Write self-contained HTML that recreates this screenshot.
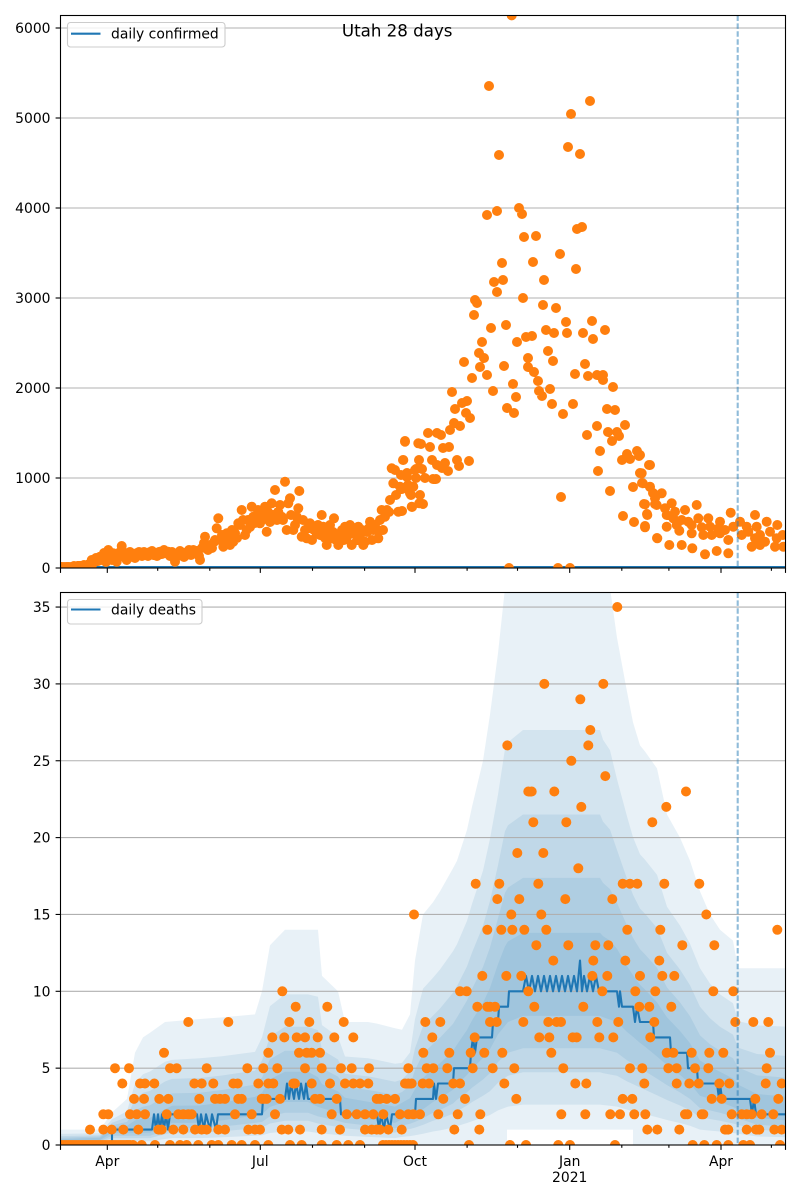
<!DOCTYPE html>
<html><head><meta charset="utf-8"><style>html,body{margin:0;padding:0;background:#fff}svg{display:block}</style></head>
<body>
<svg width="800" height="1200" viewBox="0 0 800 1200" xmlns="http://www.w3.org/2000/svg" font-family="'DejaVu Sans','Liberation Sans',sans-serif">
<defs>
<clipPath id="ct"><rect x="60.5" y="15.5" width="725" height="552.5"/></clipPath>
<clipPath id="cb"><rect x="60.5" y="592.5" width="725" height="552.5"/></clipPath>
</defs>
<rect width="800" height="1200" fill="#fff"/>

<!-- ============ TOP AXES ============ -->
<g stroke="#b0b0b0" stroke-width="1.1">
<line x1="60.5" x2="785.5" y1="28" y2="28"/><line x1="60.5" x2="785.5" y1="118" y2="118"/><line x1="60.5" x2="785.5" y1="208" y2="208"/><line x1="60.5" x2="785.5" y1="298" y2="298"/><line x1="60.5" x2="785.5" y1="388" y2="388"/><line x1="60.5" x2="785.5" y1="478" y2="478"/>
</g>
<g clip-path="url(#ct)">
<line x1="60.5" x2="785.5" y1="567" y2="567" stroke="#1f77b4" stroke-width="2.1"/>
<path fill="none" stroke="#ff7f0e" stroke-width="10" stroke-linecap="round" d="
M60.5 567h.01M62 567h.01M64 567h.01M66 567h.01M67.5 567h.01M69 567h.01M71 567h.01M72.5 567h.01M74 566h.01M76 567h.01M77.5 566h.01M79 566h.01M81 566h.01M82.5 566h.01M84 565h.01M86 566h.01M87.5 565h.01M89 564h.01
M91.7 560h.01M100 556.7h.01M108.3 550h.01M113.3 553.3h.01M121.7 546h.01M116.7 561.7h.01M126.7 560h.01M131.7 556.7h.01M140 555h.01M146.7 553.3h.01M153.3 555h.01M160 551.7h.01M168.3 551.7h.01M175 561.7h.01M176.7 553.3h.01M185 553.3h.01M193.3 550h.01M200 560h.01M205 536.7h.01M206.7 546.7h.01M215 540h.01M216.7 528.3h.01M218.3 518.3h.01M223.3 546.7h.01M226.7 533.3h.01M233.3 541.7h.01M235 533.3h.01M238.3 523.3h.01M241.7 510h.01M246.7 530h.01M251.7 506.7h.01M253.3 516.7h.01M260 523.3h.01M265 506.7h.01M266.7 531.7h.01M271.7 503.3h.01M275 490h.01M278.3 511.7h.01M281.7 516.7h.01M285 481.7h.01M286.7 530h.01M288.3 503.3h.01M290 498.3h.01M293.3 530h.01M296.7 516.7h.01M298.3 508.3h.01M299.3 491h.01M301.7 536.7h.01M306.7 538.3h.01M310 523.3h.01M316.7 533.3h.01M321.7 515h.01M323.3 526.7h.01M326.7 545h.01M331.7 538.3h.01M334 518.3h.01M338.3 545h.01M340 533.3h.01M345 526.7h.01M346.7 538.3h.01M351.7 545h.01M353.3 533.3h.01M358.3 526.7h.01M363.3 545h.01M365 541.7h.01M370 521.7h.01M373.3 530h.01M378.3 538.3h.01M381.7 510h.01M385 516.7h.01M390 500h.01M391.7 468.3h.01M393.3 483.3h.01M395 470h.01M398.3 511.7h.01M400 486.7h.01M403.3 460h.01M405 441.7h.01M406.7 475h.01M410 493.3h.01M411.7 506.7h.01M413.3 486.7h.01M415 470h.01M418.3 443.3h.01M419.3 503.3h.01
M92 565h.01M94 562h.01M96 558h.01M98 561h.01M102 560h.01M104 553h.01M106 562h.01M110 557h.01M112 560h.01M115 555h.01M118 558h.01M120 552h.01M123 556h.01M125 553h.01M128 556h.01M130 552h.01M133 554h.01M135 558h.01M137 553h.01M139 552h.01M142 556h.01M144 552h.01M148 556h.01M150 552h.01M152 551h.01M155 553h.01M157 556h.01M159 552h.01M162 554h.01M164 550h.01M166 553h.01M170 556h.01M172 552h.01M174 555h.01M178 556h.01M180 551h.01M182 555h.01M184 557h.01M187 552h.01M189 550h.01M191 555h.01M195 552h.01M197 551h.01M199 556h.01M202 548h.01M204 543h.01M208 550h.01M210 545h.01M212 548h.01M214 542h.01M220 540h.01M222 535h.01M225 540h.01M228 538h.01M230 545h.01M232 530h.01M237 538h.01M240 525h.01M243 520h.01M245 535h.01M248 520h.01M250 527h.01M255 523h.01M257 518h.01M258 510h.01M262 520h.01M264 515h.01M268 512h.01M270 522h.01M273 515h.01M277 520h.01M280 505h.01M283 520h.01M291 515h.01M295 525h.01M303 520h.01M305 530h.01M308 528h.01M312 540h.01M314 530h.01M318 525h.01M320 535h.01M325 538h.01M328 530h.01M330 525h.01M333 532h.01M336 540h.01M342 530h.01M344 540h.01M348 530h.01M350 525h.01M355 530h.01M357 540h.01M360 535h.01M362 530h.01M367 532h.01M369 528h.01M372 540h.01M375 525h.01M377 530h.01M380 520h.01M383 530h.01M387 510h.01M389 512h.01M396 495h.01M401 475h.01M408 485h.01M416 478h.01M419 460h.01M420 495h.01
M511.7 15.4h.01M489 86h.01M499 155h.01M487 215h.01M497 211h.01M519 208h.01M522 214h.01M524 237h.01M536 236h.01M502 263h.01M494 282h.01M503 280h.01M497 292h.01M533 262h.01M544 280h.01M523 298h.01M475 300h.01M477 303h.01M474 315h.01M560 254h.01M576 269h.01M577 229h.01M582 227h.01M571 114h.01M590 101h.01M568 147h.01M580 154h.01M543 305h.01M556 308h.01M566 322h.01M567 333h.01M546 330h.01M554 333h.01M592 321h.01M583 333h.01M593 339h.01M605 330h.01M491 328h.01M506 325h.01M517 342h.01M526 337h.01M532 336h.01M482 342h.01M479 353h.01M484 358h.01M480 367h.01M487 375h.01M504 366h.01M528 358h.01M528 367h.01M534 372h.01M548 351h.01M553 361h.01M464 362h.01M472 378h.01M493 391h.01M513 384h.01M516 397h.01M507 408h.01M514 413h.01M538 381h.01M539 391h.01M542 396h.01M550 389h.01M552 404h.01M563 414h.01M573 404h.01M575 374h.01M585 364h.01M588 376h.01M597 375h.01M603 375h.01M603 380h.01M613 387h.01M607 409h.01M615 410h.01M597 426h.01M587 435h.01M600 451h.01M608 432h.01M617 432h.01M612 441h.01M619 436h.01M625 425h.01M598 471h.01M610 491h.01M622 460h.01M627 454h.01M630 459h.01M637 451h.01M639 456h.01M649 465h.01M640 473h.01M633 487h.01M642 483h.01M650 487h.01M653 493h.01M644 504h.01M655 504h.01M647 514h.01M645 526h.01M623 516h.01M634 522h.01M657 538h.01M452 392h.01M455 409h.01M462 403h.01M467 401h.01M466 413h.01M470 418h.01M454 423h.01M460 426h.01M450 430h.01M428 433h.01M437 433h.01M441 435h.01M405 441h.01M421 444h.01M430 447h.01M443 448h.01M449 447h.01M403 460h.01M432 460h.01M445 463h.01M457 460h.01M459 466h.01M469 461h.01M437 465h.01M442 468h.01M448 471h.01M407 473h.01M416 469h.01M422 469h.01M407 477h.01M416 478h.01M425 478h.01M433 479h.01M436 479h.01M402 489h.01M413 487h.01M411 495h.01M402 511h.01M412 507h.01M423 504h.01M561 497h.01M509 568h.01M558 568h.01M570 568h.01
M640 455h.01M650 465h.01M641.7 473.3h.01M642.7 483.3h.01M650 486.7h.01M653.3 493.3h.01M661.7 493.3h.01M655 498.3h.01M645 504.3h.01M656.7 505h.01M665 508.3h.01M671.7 503.3h.01M675 511.7h.01M685 510h.01M696.7 505h.01M647.3 515h.01M666.7 515h.01M673.3 518.3h.01M681.7 520h.01M688.3 521.7h.01M698.3 518.3h.01M708.3 518.3h.01M720 521.7h.01M730.7 512.7h.01M645 527.3h.01M666.7 526.7h.01M676.7 525h.01M691.7 525h.01M701.7 527.3h.01M710 526.7h.01M718.3 528.3h.01M725 530h.01M733.3 526.7h.01M740 521.7h.01M746.7 526.7h.01M755 515h.01M756.7 526.7h.01M766.7 521.7h.01M777.3 525h.01M679.3 530.7h.01M691.7 533.3h.01M703.3 535h.01M711.7 535h.01M720 533.3h.01M728.3 540h.01M741.7 535h.01M748.3 531.7h.01M755 538.3h.01M760 535h.01M770 531.7h.01M776.7 538.3h.01M782.7 535h.01M657.3 538.3h.01M669.3 545h.01M681.7 545h.01M692.3 548.3h.01M705 554.3h.01M716.7 551h.01M728.3 553.3h.01M751.7 546.7h.01M760 545h.01M765 541.7h.01M775 546.7h.01M783.3 546.7h.01"/>
</g>
<line x1="737.7" x2="737.7" y1="15.5" y2="568" stroke="#1f77b4" stroke-opacity="0.5" stroke-width="2.1" stroke-dasharray="5.5 2.4"/>
<rect x="60.5" y="15.5" width="725" height="552.5" fill="none" stroke="#000" stroke-width="1.1"/>
<g stroke="#000" stroke-width="1.1">
<line x1="55.6" x2="60.5" y1="568" y2="568"/><line x1="55.6" x2="60.5" y1="478" y2="478"/><line x1="55.6" x2="60.5" y1="388" y2="388"/><line x1="55.6" x2="60.5" y1="298" y2="298"/><line x1="55.6" x2="60.5" y1="208" y2="208"/><line x1="55.6" x2="60.5" y1="118" y2="118"/><line x1="55.6" x2="60.5" y1="28" y2="28"/>
<line x1="60.5" x2="60.5" y1="568" y2="572.9"/><line x1="107.3" x2="107.3" y1="568" y2="572.9"/><line x1="260.3" x2="260.3" y1="568" y2="572.9"/><line x1="415" x2="415" y1="568" y2="572.9"/><line x1="569.7" x2="569.7" y1="568" y2="572.9"/><line x1="721" x2="721" y1="568" y2="572.9"/><line x1="785.5" x2="785.5" y1="568" y2="572.9"/>
<line x1="157.7" x2="157.7" y1="568" y2="570.8"/><line x1="209.8" x2="209.8" y1="568" y2="570.8"/><line x1="312.5" x2="312.5" y1="568" y2="570.8"/><line x1="364.6" x2="364.6" y1="568" y2="570.8"/><line x1="467.1" x2="467.1" y1="568" y2="570.8"/><line x1="517.5" x2="517.5" y1="568" y2="570.8"/><line x1="621.8" x2="621.8" y1="568" y2="570.8"/><line x1="668.9" x2="668.9" y1="568" y2="570.8"/><line x1="771.4" x2="771.4" y1="568" y2="570.8"/>
</g>
<g font-size="13.9" fill="#000" text-anchor="end">
<text x="50.5" y="573">0</text><text x="50.5" y="483">1000</text><text x="50.5" y="393">2000</text><text x="50.5" y="303">3000</text><text x="50.5" y="213">4000</text><text x="50.5" y="123">5000</text><text x="50.5" y="33">6000</text>
</g>
<rect x="67.5" y="22.5" width="157.5" height="24.5" rx="3" fill="#fff" fill-opacity="0.8" stroke="#cccccc" stroke-width="1.1"/>
<line x1="71" x2="100.5" y1="33.7" y2="33.7" stroke="#1f77b4" stroke-width="2.1"/>
<text x="111" y="38.6" font-size="13.9" fill="#000">daily confirmed</text>
<text x="397.2" y="36.3" font-size="16.67" fill="#000" text-anchor="middle">Utah 28 days</text>

<!-- ============ BOTTOM AXES ============ -->
<g clip-path="url(#cb)" fill="#1f77b4" fill-opacity="0.1">
<polygon points="60.5,1129.6 100,1129.6 112,1112.4 127,1098.9 135,1052.8 143,1037.4 150,1032.8 165,1022 172,1021.4 200,1019 222,1017.4 255,1014.4 262,991.3 270,945.2 285,929.8 318,929.8 322,975.9 338,991.3 345,1022 368,1022 377,1023.6 395,1028.2 402,1029.7 410,1014.4 415,960.6 423,914.5 433,902.2 440,891.4 453,868.3 457,860.7 467,829.9 472,806.9 483,760.8 490,714.6 498,653.2 505,588 610,588 617,637.8 627,691.6 633,722.3 640,745.4 645,751.5 657,768.4 667,814.5 680,837.6 690,860.7 700,891.4 710,914.5 720,929.8 733,940.6 738,968.2 786,968.2 786,1146 633,1146 633,1129.6 507,1129.6 507,1146 60.5,1146"/>
<polygon points="60.5,1133.9 100,1133.3 112,1119.3 127,1111.2 135,1083.5 143,1074.3 150,1071.5 165,1061.7 172,1059.9 200,1058.3 222,1056.2 255,1051.9 262,1037.4 270,1006.1 285,994.4 308,994.4 318,996.8 322,1025.1 338,1036.8 345,1056.5 368,1058.3 377,1059.9 395,1063.8 402,1062.9 410,1052.5 415,1019 423,988.8 433,977.8 440,969.5 453,951.3 457,944.3 467,920.9 472,904 483,870.8 490,838.8 498,794.6 505,748.8 508,742.3 523,730 600,730 603,739.8 610,750.3 617,779.2 627,816.4 633,837.3 640,854.2 645,859.7 657,874.8 667,906.8 680,925.5 690,943.7 700,968.2 710,983.6 720,994.4 733,1003.3 738,1021.1 757,1025.4 786,1026.7 786,1137.3 757,1136.5 738,1133.8 733,1133 720,1131.5 710,1130.6 700,1129.6 690,1125.8 680,1123 667,1120 657,1117.3 645,1114.3 640,1113 633,1111.2 627,1109.6 617,1106.6 610,1105.8 603,1105 600,1104.6 523,1104.6 508,1106.6 505,1107.7 498,1110.4 490,1115 483,1117.6 472,1121.2 467,1123 457,1126.1 453,1127.6 440,1130.4 433,1131.5 423,1133.8 415,1135.3 410,1136.1 402,1136.9 395,1138.1 377,1137.3 368,1136.9 345,1135.8 338,1135 322,1133.5 318,1133 308,1131.5 285,1131.5 270,1133 262,1135.3 255,1135.8 222,1137.3 200,1138.1 172,1138.1 165,1139 150,1141.2 112,1141.2 100,1143.5 60.5,1143.8"/>
<polygon points="60.5,1136.1 100,1135.2 112,1122.7 127,1117.3 135,1098.9 143,1092.7 150,1090.9 165,1081.5 172,1078.9 200,1078 222,1075.5 255,1070.6 262,1060.5 270,1036.5 285,1026.7 308,1026.7 318,1030.3 322,1049.7 338,1059.5 345,1073.7 368,1076.4 377,1078 395,1081.7 402,1079.5 410,1071.5 415,1048.2 423,1026 433,1015.6 440,1008.5 453,992.8 457,986.1 467,966.4 472,952.6 483,925.8 490,900.9 498,865.3 505,831.1 508,825.3 523,814.5 600,814.5 603,821.6 610,829.6 617,849.9 627,878.8 633,894.8 640,908.6 645,913.8 657,928 667,952.9 680,969.5 690,985.2 700,1006.7 710,1018.2 720,1026.7 733,1034.6 738,1047.6 757,1054 786,1055.9 786,1131.2 757,1129.8 738,1124.9 733,1123.5 720,1120.7 710,1119 700,1117.3 690,1110.4 680,1105.5 667,1100 657,1095.2 645,1089.7 640,1087.5 633,1084.1 627,1081.4 617,1075.8 610,1074.5 603,1073.1 600,1072.3 523,1072.3 508,1075.8 505,1077.8 498,1082.8 490,1091.1 483,1095.8 472,1102.1 467,1105.5 457,1111.2 453,1113.8 440,1118.7 433,1120.7 423,1124.9 415,1127.6 410,1129 402,1130.4 395,1132.6 377,1131.2 368,1130.4 345,1128.4 338,1127 322,1124.3 318,1123.5 308,1120.7 285,1120.7 270,1123.5 262,1127.6 255,1128.4 222,1131.2 200,1132.6 172,1132.6 165,1134.2 150,1138.1 112,1138.1 100,1142.2 60.5,1142.9"/>
<polygon points="60.5,1137.7 100,1136.5 112,1125.3 127,1121.9 135,1110.4 143,1106.6 150,1105.3 165,1096.4 172,1093.4 200,1092.7 222,1090 255,1084.6 262,1077.7 270,1059.2 285,1050.8 308,1050.8 318,1055.4 322,1068.2 338,1076.6 345,1086.6 368,1090 377,1091.5 395,1095 402,1092 410,1085.8 415,1070 423,1053.9 433,1043.9 440,1037.7 453,1023.9 457,1017.4 467,1000.5 472,989 483,967 490,947.5 498,918.3 505,892.9 508,887.6 523,877.9 600,877.9 603,882.9 610,889.1 617,902.9 627,925.5 633,937.8 640,949.3 645,954.4 657,967.8 667,987.5 680,1002.4 690,1016.2 700,1035.4 710,1044.2 720,1050.8 733,1058.2 738,1067.4 757,1075.4 786,1077.7 786,1126.6 757,1124.7 738,1118.3 733,1116.4 720,1112.7 710,1110.4 700,1108.1 690,1098.9 680,1092.4 667,1085.1 657,1078.6 645,1071.2 640,1068.5 633,1063.8 627,1060.2 617,1052.8 610,1050.9 603,1049.1 600,1048.2 523,1048.2 508,1052.8 505,1055.5 498,1062 490,1073.1 483,1079.5 472,1087.8 467,1092.4 457,1099.8 453,1103.5 440,1110 433,1112.7 423,1118.3 415,1121.9 410,1123.8 402,1125.6 395,1128.4 377,1126.6 368,1125.6 345,1122.9 338,1121 322,1117.3 318,1116.4 308,1112.7 285,1112.7 270,1116.4 262,1121.9 255,1122.9 222,1126.6 200,1128.4 172,1128.4 165,1130.7 150,1135.8 112,1135.8 100,1141.3 60.5,1142.2"/>
<polygon points="60.5,1139.2 100,1137.8 112,1127.6 127,1125.9 135,1120.4 143,1118.6 150,1117.9 165,1109.3 172,1105.8 200,1105.5 222,1102.6 255,1096.9 262,1092.7 270,1079.1 285,1071.8 308,1071.8 318,1077.2 322,1084.1 338,1091.4 345,1097.8 368,1101.8 377,1103.3 395,1106.6 402,1102.7 410,1098.3 415,1089.1 423,1078.1 433,1068.5 440,1063.2 453,1050.9 457,1044.6 467,1030 472,1020.5 483,1002.8 490,987.9 498,964.3 505,946.4 508,941.5 523,932.9 600,932.9 603,936.1 610,940.6 617,948.9 627,966.1 633,975.3 640,984.8 645,989.6 657,1002.4 667,1017.4 680,1031 690,1043.3 700,1060.5 710,1066.6 720,1071.8 733,1078.6 738,1084.6 757,1094 786,1096.7 786,1120.4 757,1117.9 738,1109.3 733,1106.9 720,1102 710,1098.9 700,1095.8 690,1083.5 680,1074.9 667,1065.1 657,1056.5 645,1046.6 640,1042.9 633,1036.8 627,1031.9 617,1022 610,1019.6 603,1017.1 600,1015.9 523,1015.9 508,1022 505,1025.7 498,1034.3 490,1049.1 483,1057.7 472,1068.8 467,1074.9 457,1084.8 453,1089.7 440,1098.3 433,1102 423,1109.3 415,1114.3 410,1116.7 402,1119.2 395,1122.9 377,1120.4 368,1119.2 345,1115.5 338,1113 322,1108.1 318,1106.9 308,1102 285,1102 270,1106.9 262,1114.3 255,1115.5 222,1120.4 200,1122.9 172,1122.9 165,1125.9 150,1132.7 112,1132.7 100,1140.1 60.5,1141.3"/>
</g>
<g stroke="#b0b0b0" stroke-width="1.1">
<line x1="60.5" x2="785.5" y1="607.05" y2="607.05"/><line x1="60.5" x2="785.5" y1="683.9" y2="683.9"/><line x1="60.5" x2="785.5" y1="760.75" y2="760.75"/><line x1="60.5" x2="785.5" y1="837.6" y2="837.6"/><line x1="60.5" x2="785.5" y1="914.45" y2="914.45"/><line x1="60.5" x2="785.5" y1="991.3" y2="991.3"/><line x1="60.5" x2="785.5" y1="1068.15" y2="1068.15"/>
</g>
<g clip-path="url(#cb)">
<path fill="none" stroke="#1f77b4" stroke-width="2.1" stroke-linejoin="round" d="M60.5 1145 L112 1145 L112 1129.6 L152 1129.6 L154 1114.3 L156 1129.6 L158 1114.3 L160 1129.6 L162 1114.3 L164 1129.6 L166 1114.3 L168 1129.6 L170 1114.3 L197 1114.3 L199 1129.6 L201 1114.3 L204 1129.6 L206 1114.3 L210 1129.6 L212 1114.3 L216 1129.6 L218 1114.3 L262 1114.3 L263 1098.9 L285 1098.9 L287 1083.5 L289 1098.9 L291 1083.5 L294 1098.9 L296 1083.5 L299 1098.9 L301 1083.5 L304 1098.9 L306 1083.5 L308 1098.9 L340 1098.9 L341 1114.3 L377 1114.3 L379 1129.6 L381 1114.3 L384 1129.6 L386 1114.3 L390 1129.6 L392 1114.3 L415 1114.3 L416 1098.9 L433 1098.9 L434 1083.5 L436 1098.9 L438 1083.5 L453 1083.5 L454 1068.2 L470 1068.2 L471 1052.8 L473 1037.4 L475 1052.8 L477 1037.4 L492 1037.4 L493 1022 L498 1022 L499 1006.7 L508 1006.7 L509 991.3 L523 991.3 L526 975.9 L529 991.3 L532 975.9 L535 991.3 L538 975.9 L541 991.3 L544 975.9 L547 991.3 L550 975.9 L553 991.3 L556 975.9 L559 991.3 L562 975.9 L565 991.3 L568 975.9 L571 991.3 L574 975.9 L577 991.3 L580 960.6 L582 991.3 L584 975.9 L587 991.3 L590 975.9 L593 991.3 L596 975.9 L599 991.3 L617 991.3 L619 1006.7 L620 991.3 L622 1006.7 L633 1006.7 L635 1022 L637 1006.7 L640 1022 L653 1022 L654 1037.4 L670 1037.4 L671 1052.8 L687 1052.8 L688 1068.2 L697 1068.2 L698 1083.5 L717 1083.5 L719 1098.9 L720 1083.5 L722 1098.9 L750 1098.9 L752 1114.3 L754 1098.9 L756 1114.3 L786 1114.3"/>
<path fill="none" stroke="#ff7f0e" stroke-width="10" stroke-linecap="round" d="
M60 1145h.01M62 1145h.01M64 1145h.01M66 1145h.01M68 1145h.01M70 1145h.01M72 1145h.01M74 1145h.01M76 1145h.01M78 1145h.01M80 1145h.01M82 1145h.01M84 1145h.01M86 1145h.01M88 1145h.01M90 1145h.01M92 1145h.01M94 1145h.01M96 1145h.01M98 1145h.01M100 1145h.01M102 1145h.01M104 1145h.01M106 1145h.01M108 1145h.01M110 1145h.01M112 1145h.01M114 1145h.01M116 1145h.01M118 1145h.01M120 1145h.01M122 1145h.01M124 1145h.01M126 1145h.01M128 1145h.01M130 1145h.01M133 1145h.01M141.7 1145h.01M155 1145h.01M170 1145h.01M180 1145h.01M186.7 1145h.01M198.3 1145h.01M211.7 1145h.01M218.3 1145h.01M231.7 1145h.01M241.7 1145h.01M255 1145h.01M268.3 1145h.01M290 1145h.01M301.7 1145h.01M321.7 1145h.01M336.7 1145h.01M348.3 1145h.01M360 1145h.01M383 1145h.01M386 1145h.01M389 1145h.01M392 1145h.01M395 1145h.01M398 1145h.01M401 1145h.01M404 1145h.01M407 1145h.01M410 1145h.01M413 1145h.01M469 1145h.01M510 1145h.01M526 1145h.01M558.3 1145h.01M570 1145h.01M615 1145h.01M692.7 1145h.01M704.3 1145h.01M716.7 1145h.01M728.3 1145h.01M743.3 1145h.01M750 1145h.01M780 1145h.01
M90 1129.6h.01M103.3 1129.6h.01M111.7 1129.6h.01M123.3 1129.6h.01M138.3 1129.6h.01M158.3 1129.6h.01M161.7 1129.6h.01M173.3 1129.6h.01M183.3 1129.6h.01M195 1129.6h.01M201.7 1129.6h.01M206.7 1129.6h.01M218.3 1129.6h.01M225 1129.6h.01M248.3 1129.6h.01M255 1129.6h.01M260 1129.6h.01M281.7 1129.6h.01M288.3 1129.6h.01M300 1129.6h.01M321.7 1129.6h.01M340 1129.6h.01M365 1129.6h.01M371.7 1129.6h.01M376.7 1129.6h.01M380 1129.6h.01M388.3 1129.6h.01M401.7 1129.6h.01M454.3 1129.6h.01M479.3 1129.6h.01M647.3 1129.6h.01M657.3 1129.6h.01M679.3 1129.6h.01M725 1129.6h.01M728.3 1129.6h.01M746.7 1129.6h.01M756 1129.6h.01M759.3 1129.6h.01M774.3 1129.6h.01M781.7 1129.6h.01
M103.3 1114.3h.01M108.3 1114.3h.01M130 1114.3h.01M136.7 1114.3h.01M145 1114.3h.01M166.7 1114.3h.01M178.3 1114.3h.01M183.3 1114.3h.01M188.3 1114.3h.01M191.7 1114.3h.01M235 1114.3h.01M251.7 1114.3h.01M275 1114.3h.01M331.7 1114.3h.01M346.7 1114.3h.01M356.7 1114.3h.01M365 1114.3h.01M373.3 1114.3h.01M383.3 1114.3h.01M400 1114.3h.01M408.3 1114.3h.01M413.3 1114.3h.01M420 1114.3h.01M438.3 1114.3h.01M457.7 1114.3h.01M480.3 1114.3h.01M561.3 1114.3h.01M585.3 1114.3h.01M610.3 1114.3h.01M620 1114.3h.01M634.3 1114.3h.01M645.3 1114.3h.01M685 1114.3h.01M687.3 1114.3h.01M701.7 1114.3h.01M703.3 1114.3h.01M731.7 1114.3h.01M741.7 1114.3h.01M746.7 1114.3h.01M751.7 1114.3h.01M761.7 1114.3h.01M773.3 1114.3h.01
M134 1098.9h.01M144 1098.9h.01M159.3 1098.9h.01M168.3 1098.9h.01M199.3 1098.9h.01M215 1098.9h.01M220 1098.9h.01M225 1098.9h.01M238.3 1098.9h.01M241.7 1098.9h.01M261.7 1098.9h.01M263.3 1098.9h.01M266.7 1098.9h.01M280 1098.9h.01M315 1098.9h.01M320 1098.9h.01M336.7 1098.9h.01M376.7 1098.9h.01M380 1098.9h.01M386.7 1098.9h.01M395 1098.9h.01M443.3 1098.9h.01M465 1098.9h.01M516.3 1098.9h.01M622.7 1098.9h.01M632.3 1098.9h.01M711.7 1098.9h.01M721.7 1098.9h.01M755.3 1098.9h.01M778.3 1098.9h.01
M122.3 1083.5h.01M140 1083.5h.01M145 1083.5h.01M154.3 1083.5h.01M194.3 1083.5h.01M201.7 1083.5h.01M213.3 1083.5h.01M233.3 1083.5h.01M237.7 1083.5h.01M258.3 1083.5h.01M268.3 1083.5h.01M273.3 1083.5h.01M293.3 1083.5h.01M295 1083.5h.01M311.7 1083.5h.01M330 1083.5h.01M345 1083.5h.01M353.3 1083.5h.01M360 1083.5h.01M368.3 1083.5h.01M405 1083.5h.01M408.3 1083.5h.01M411.7 1083.5h.01M422.7 1083.5h.01M429 1083.5h.01M453.3 1083.5h.01M460 1083.5h.01M504.3 1083.5h.01M575.3 1083.5h.01M586.3 1083.5h.01M644.3 1083.5h.01M676.7 1083.5h.01M689.3 1083.5h.01M698.7 1083.5h.01M719.3 1083.5h.01M729.3 1083.5h.01M765.7 1083.5h.01M781.7 1083.5h.01
M115 1068.2h.01M129 1068.2h.01M170 1068.2h.01M176.7 1068.2h.01M206.7 1068.2h.01M247.3 1068.2h.01M263.3 1068.2h.01M277.3 1068.2h.01M305 1068.2h.01M321.7 1068.2h.01M341 1068.2h.01M351.7 1068.2h.01M369 1068.2h.01M408.3 1068.2h.01M426.7 1068.2h.01M433.3 1068.2h.01M447.3 1068.2h.01M472.7 1068.2h.01M492.7 1068.2h.01M514.3 1068.2h.01M563.3 1068.2h.01M630 1068.2h.01M642.3 1068.2h.01M668.3 1068.2h.01M676.7 1068.2h.01M695 1068.2h.01M708.3 1068.2h.01M766.7 1068.2h.01
M164 1052.8h.01M268.3 1052.8h.01M299 1052.8h.01M306.7 1052.8h.01M311.7 1052.8h.01M320 1052.8h.01M423.3 1052.8h.01M449.3 1052.8h.01M470.7 1052.8h.01M484.3 1052.8h.01M502.3 1052.8h.01M551.3 1052.8h.01M666.7 1052.8h.01M673.3 1052.8h.01M691.7 1052.8h.01M709.3 1052.8h.01M723.3 1052.8h.01M770 1052.8h.01
M272.3 1037.4h.01M284.3 1037.4h.01M296.7 1037.4h.01M305 1037.4h.01M317.7 1037.4h.01M334.3 1037.4h.01M353.3 1037.4h.01M432.3 1037.4h.01M474.7 1037.4h.01M539.3 1037.4h.01M549.3 1037.4h.01M572.7 1037.4h.01M576.7 1037.4h.01M599.3 1037.4h.01M613.3 1037.4h.01M650.3 1037.4h.01
M188.3 1022h.01M228.3 1022h.01M289.3 1022h.01M309.3 1022h.01M343.7 1022h.01M425.3 1022h.01M440.3 1022h.01M490 1022h.01M496.7 1022h.01M523.3 1022h.01M548.3 1022h.01M556.7 1022h.01M561 1022h.01M597.3 1022h.01M618.3 1022h.01M654.3 1022h.01M735.3 1022h.01M753.3 1022h.01M768.3 1022h.01
M295.7 1006.7h.01M327.3 1006.7h.01M477.3 1006.7h.01M487.3 1006.7h.01M490 1006.7h.01M495 1006.7h.01M534.3 1006.7h.01M583.3 1006.7h.01M639.3 1006.7h.01M649.3 1006.7h.01M671.3 1006.7h.01
M282.3 991.3h.01M460 991.3h.01M466.7 991.3h.01M528.3 991.3h.01M602.3 991.3h.01M635.3 991.3h.01M655.3 991.3h.01M713.3 991.3h.01M733.3 991.3h.01
M482.3 975.9h.01M506.3 975.9h.01M521.3 975.9h.01M592.3 975.9h.01M607.3 975.9h.01M640 975.9h.01M662.3 975.9h.01M674.3 975.9h.01
M553.3 960.6h.01M593.3 960.6h.01M625.3 960.6h.01M659.3 960.6h.01
M536.3 945.2h.01M568.3 945.2h.01M595.3 945.2h.01M608.3 945.2h.01M682.3 945.2h.01M714.3 945.2h.01
M487.3 929.8h.01M501.3 929.8h.01M512.3 929.8h.01M524.3 929.8h.01M546.3 929.8h.01M627.3 929.8h.01M660.3 929.8h.01M777.3 929.8h.01
M414 914.5h.01M511.3 914.5h.01M541.3 914.5h.01M706.3 914.5h.01
M497.3 899.1h.01M519.3 899.1h.01M565.3 899.1h.01M612.3 899.1h.01
M475.7 883.7h.01M499.3 883.7h.01M538.3 883.7h.01M622.7 883.7h.01M630 883.7h.01M637.3 883.7h.01M664.3 883.7h.01M699.3 883.7h.01
M578.3 868.3h.01M517.3 853h.01M543.3 853h.01
M533.3 822.2h.01M566.3 822.2h.01M652.3 822.2h.01M581.3 806.9h.01M666.3 806.9h.01
M528.3 791.5h.01M531.7 791.5h.01M554.3 791.5h.01M686 791.5h.01M605.3 776.1h.01M571.3 760.8h.01M507.3 745.4h.01M588.3 745.4h.01M590.3 730h.01M580.3 699.3h.01M544.3 683.9h.01M603.3 683.9h.01M617.3 607h.01"/>
</g>
<line x1="737.7" x2="737.7" y1="592.5" y2="1145" stroke="#1f77b4" stroke-opacity="0.5" stroke-width="2.1" stroke-dasharray="5.5 2.4"/>
<rect x="60.5" y="592.5" width="725" height="552.5" fill="none" stroke="#000" stroke-width="1.1"/>
<g stroke="#000" stroke-width="1.1">
<line x1="55.6" x2="60.5" y1="1145" y2="1145"/><line x1="55.6" x2="60.5" y1="1068.15" y2="1068.15"/><line x1="55.6" x2="60.5" y1="991.3" y2="991.3"/><line x1="55.6" x2="60.5" y1="914.45" y2="914.45"/><line x1="55.6" x2="60.5" y1="837.6" y2="837.6"/><line x1="55.6" x2="60.5" y1="760.75" y2="760.75"/><line x1="55.6" x2="60.5" y1="683.9" y2="683.9"/><line x1="55.6" x2="60.5" y1="607.05" y2="607.05"/>
<line x1="60.5" x2="60.5" y1="1145" y2="1149.9"/><line x1="107.3" x2="107.3" y1="1145" y2="1149.9"/><line x1="260.3" x2="260.3" y1="1145" y2="1149.9"/><line x1="415" x2="415" y1="1145" y2="1149.9"/><line x1="569.7" x2="569.7" y1="1145" y2="1149.9"/><line x1="721" x2="721" y1="1145" y2="1149.9"/><line x1="785.5" x2="785.5" y1="1145" y2="1149.9"/>
<line x1="157.7" x2="157.7" y1="1145" y2="1147.8"/><line x1="209.8" x2="209.8" y1="1145" y2="1147.8"/><line x1="312.5" x2="312.5" y1="1145" y2="1147.8"/><line x1="364.6" x2="364.6" y1="1145" y2="1147.8"/><line x1="467.1" x2="467.1" y1="1145" y2="1147.8"/><line x1="517.5" x2="517.5" y1="1145" y2="1147.8"/><line x1="621.8" x2="621.8" y1="1145" y2="1147.8"/><line x1="668.9" x2="668.9" y1="1145" y2="1147.8"/><line x1="771.4" x2="771.4" y1="1145" y2="1147.8"/>
</g>
<g font-size="13.9" fill="#000" text-anchor="end">
<text x="50.5" y="1150">0</text><text x="50.5" y="1073.2">5</text><text x="50.5" y="996.3">10</text><text x="50.5" y="919.5">15</text><text x="50.5" y="842.6">20</text><text x="50.5" y="765.8">25</text><text x="50.5" y="688.9">30</text><text x="50.5" y="612.1">35</text>
</g>
<g font-size="13.9" fill="#000" text-anchor="middle">
<text x="107.3" y="1166">Apr</text><text x="260.3" y="1166">Jul</text><text x="415" y="1166">Oct</text><text x="569.7" y="1166">Jan</text><text x="569.7" y="1182.2">2021</text><text x="721" y="1166">Apr</text>
</g>
<rect x="67.5" y="599.5" width="134.5" height="24.5" rx="3" fill="#fff" fill-opacity="0.8" stroke="#cccccc" stroke-width="1.1"/>
<line x1="71" x2="100.5" y1="609.5" y2="609.5" stroke="#1f77b4" stroke-width="2.1"/>
<text x="111" y="614.4" font-size="13.9" fill="#000">daily deaths</text>
</svg>
</body></html>
